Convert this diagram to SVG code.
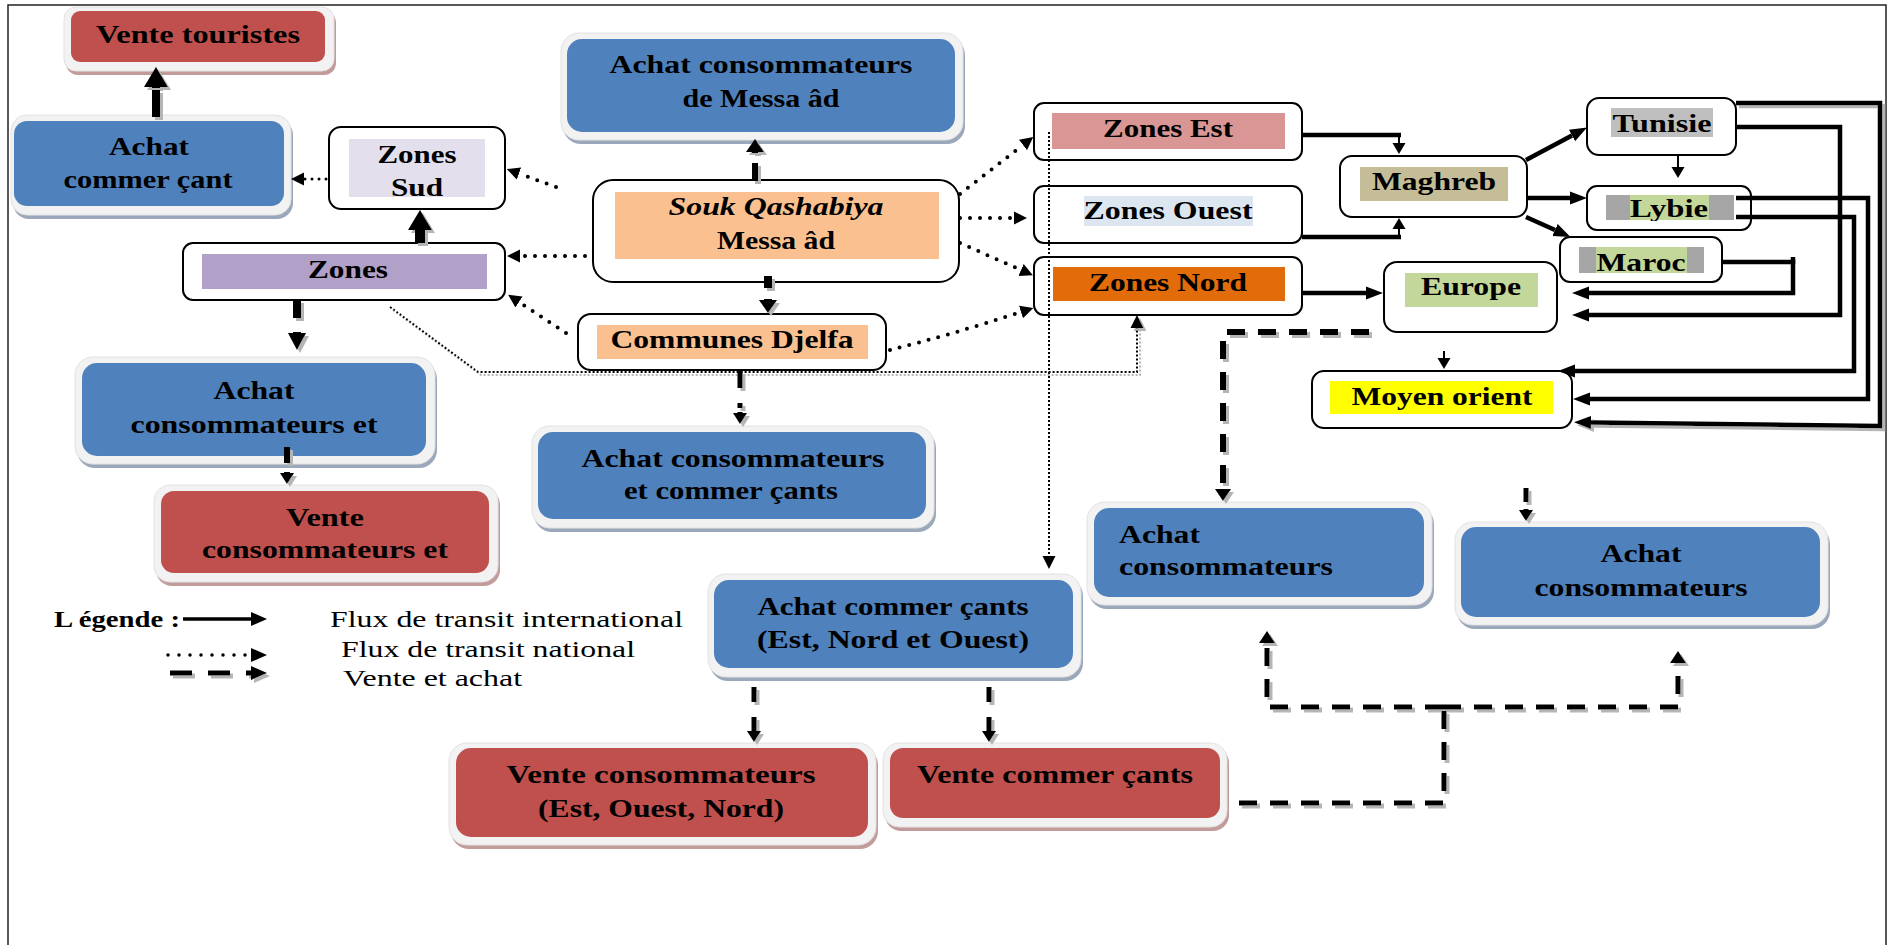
<svg xmlns="http://www.w3.org/2000/svg" width="1888" height="945" viewBox="0 0 1888 945">
<style>
.frame{fill:none;stroke:#222;stroke-width:1.5}
.go{fill:#f2f2f2;stroke:#e2e2e2;stroke-width:1}
.red .gs{fill:#c29c9b}.blue .gs{fill:#9ba8bb}
.red .gi{fill:#c0504d}.blue .gi{fill:#4f81bd}
.wb{fill:#fff;stroke:#000;stroke-width:2}
.t{font-family:"Liberation Serif","Times New Roman",serif;font-weight:bold;font-size:26px;fill:#000;text-anchor:middle}
.ts{text-anchor:start}
.it{font-style:italic}
.lg{font-weight:normal;font-size:23px;text-anchor:start}
.lb{font-size:24px;text-anchor:start}
.int{fill:none;stroke:#000;stroke-width:4.5}
.thin{fill:none;stroke:#000;stroke-width:2}
.dot{fill:none;stroke:#000;stroke-width:4;stroke-dasharray:0 10;stroke-linecap:round}
.fdot{fill:none;stroke:#000;stroke-width:2;stroke-dasharray:2 2}
.dash{fill:none;stroke:#000;stroke-width:5}
.dl{stroke-dasharray:18 13}
</style>
<defs>
<filter id="sh" filterUnits="userSpaceOnUse" x="0" y="0" width="1888" height="945">
<feOffset in="SourceAlpha" dx="3" dy="3" result="o"/>
<feFlood flood-color="#b5b5b5"/>
<feComposite in2="o" operator="in" result="s"/>
<feMerge><feMergeNode in="s"/><feMergeNode in="SourceGraphic"/></feMerge>
</filter>
<marker id="mi" markerUnits="userSpaceOnUse" orient="auto" viewBox="0 -7 17 14" markerWidth="17" markerHeight="14" refX="0" refY="0"><path d="M0,-6.5 L17,0 L0,6.5z" fill="#000"/></marker>
<marker id="mt" markerUnits="userSpaceOnUse" orient="auto" viewBox="0 -7 12 14" markerWidth="12" markerHeight="14" refX="0" refY="0"><path d="M0,-6.5 L11,0 L0,6.5z" fill="#000"/></marker>
<marker id="md" markerUnits="userSpaceOnUse" orient="auto" viewBox="0 -7 13 14" markerWidth="13" markerHeight="14" refX="0" refY="0"><path d="M0,-6.5 L13,0 L0,6.5z" fill="#000"/></marker>
<marker id="k20" markerUnits="userSpaceOnUse" orient="auto" viewBox="0 -12 20 24" markerWidth="20" markerHeight="24" refX="0" refY="0"><path d="M0,-12 L20,0 L0,12z" fill="#000"/></marker>
<marker id="k17" markerUnits="userSpaceOnUse" orient="auto" viewBox="0 -9 17 18" markerWidth="17" markerHeight="18" refX="0" refY="0"><path d="M0,-9 L17,0 L0,9z" fill="#000"/></marker>
<marker id="k13" markerUnits="userSpaceOnUse" orient="auto" viewBox="0 -10 13 20" markerWidth="13" markerHeight="20" refX="0" refY="0"><path d="M0,-9 L13,0 L0,9z" fill="#000"/></marker>
<marker id="k12" markerUnits="userSpaceOnUse" orient="auto" viewBox="0 -9 12 18" markerWidth="12" markerHeight="18" refX="0" refY="0"><path d="M0,-8 L12,0 L0,8z" fill="#000"/></marker>
<marker id="k10" markerUnits="userSpaceOnUse" orient="auto" viewBox="0 -8 11 16" markerWidth="11" markerHeight="16" refX="0" refY="0"><path d="M0,-7 L11,0 L0,7z" fill="#000"/></marker>
<marker id="kl" markerUnits="userSpaceOnUse" orient="auto" viewBox="0 -8 16 16" markerWidth="16" markerHeight="16" refX="0" refY="0"><path d="M0,-7 L16,0 L0,7z" fill="#000"/></marker>
<clipPath id="clipLy"><rect x="1600" y="180" width="150" height="41"/></clipPath>
</defs>

<rect width="1888" height="945" fill="#fff"/>
<path class="frame" d="M8,945 V5 H1886 V945"/>

<!-- nodes -->
<g id="n-vente-touristes" class="red">
 <rect class="gs" x="66" y="11" width="270" height="64" rx="12"/>
 <rect class="go" x="64" y="7" width="270" height="64" rx="12"/>
 <rect class="gi" x="71" y="11" width="254" height="51" rx="9"/>
 <text class="t" x="198" y="43" textLength="204" lengthAdjust="spacingAndGlyphs">Vente touristes</text>
</g>
<g id="n-achat-commercant" class="blue">
 <rect class="gs" x="13" y="119" width="280" height="100" rx="16"/>
 <rect class="go" x="11" y="115" width="280" height="100" rx="16"/>
 <rect class="gi" x="14" y="121" width="270" height="85" rx="13"/>
 <text class="t" x="149" y="155" textLength="80" lengthAdjust="spacingAndGlyphs">Achat</text>
 <text class="t" x="148" y="188" textLength="169" lengthAdjust="spacingAndGlyphs">commer çant</text>
</g>
<g id="n-zones-sud">
 <rect class="wb" x="329" y="127" width="176" height="82" rx="12"/>
 <rect x="349" y="139" width="136" height="58" fill="#e4dfec"/>
 <text class="t" x="417" y="163" textLength="79" lengthAdjust="spacingAndGlyphs">Zones</text>
 <text class="t" x="417" y="196" textLength="52" lengthAdjust="spacingAndGlyphs">Sud</text>
</g>
<g id="n-zones">
 <rect class="wb" x="183" y="243" width="322" height="57" rx="10"/>
 <rect x="202" y="254" width="285" height="35" fill="#b1a0c7"/>
 <text class="t" x="348" y="278" textLength="80" lengthAdjust="spacingAndGlyphs">Zones</text>
</g>
<g id="n-achat-messaad" class="blue">
 <rect class="gs" x="563" y="37" width="402" height="107" rx="18"/>
 <rect class="go" x="561" y="33" width="402" height="107" rx="18"/>
 <rect class="gi" x="567" y="39" width="388" height="93" rx="15"/>
 <text class="t" x="761" y="73" textLength="303" lengthAdjust="spacingAndGlyphs">Achat consommateurs</text>
 <text class="t" x="761" y="107" textLength="157" lengthAdjust="spacingAndGlyphs">de Messa âd</text>
</g>
<g id="n-souk">
 <rect class="wb" x="593" y="180" width="366" height="102" rx="20"/>
 <rect x="615" y="192" width="324" height="67" fill="#fac090"/>
 <text class="t it" x="776" y="215" textLength="215" lengthAdjust="spacingAndGlyphs">Souk Qashabiya</text>
 <text class="t" x="776" y="249" textLength="118" lengthAdjust="spacingAndGlyphs">Messa âd</text>
</g>
<g id="n-communes">
 <rect class="wb" x="578" y="314" width="308" height="56" rx="13"/>
 <rect x="597" y="325" width="271" height="34" fill="#fac090"/>
 <text class="t" x="732" y="348" textLength="243" lengthAdjust="spacingAndGlyphs">Communes Djelfa</text>
</g>
<g id="n-zones-est">
 <rect class="wb" x="1034" y="103" width="268" height="57" rx="10"/>
 <rect x="1052" y="113" width="233" height="36" fill="#da9694"/>
 <text class="t" x="1168" y="137" textLength="130" lengthAdjust="spacingAndGlyphs">Zones Est</text>
</g>
<g id="n-zones-ouest">
 <rect class="wb" x="1034" y="186" width="268" height="57" rx="10"/>
 <rect x="1084" y="196" width="169" height="30" fill="#dce6f1"/>
 <text class="t" x="1168" y="219" textLength="169" lengthAdjust="spacingAndGlyphs">Zones Ouest</text>
</g>
<g id="n-zones-nord">
 <rect class="wb" x="1034" y="257" width="268" height="58" rx="10"/>
 <rect x="1053" y="267" width="232" height="34" fill="#e26b0a"/>
 <text class="t" x="1168" y="291" textLength="158" lengthAdjust="spacingAndGlyphs">Zones Nord</text>
</g>
<g id="n-maghreb">
 <rect class="wb" x="1340" y="156" width="187" height="61" rx="12"/>
 <rect x="1360" y="167" width="148" height="34" fill="#c4bd97"/>
 <text class="t" x="1434" y="190" textLength="124" lengthAdjust="spacingAndGlyphs">Maghreb</text>
</g>
<g id="n-tunisie">
 <rect class="wb" x="1587" y="98" width="149" height="57" rx="12"/>
 <rect x="1611" y="108" width="102" height="29" fill="#bfbfbf"/>
 <text class="t" x="1662" y="132" textLength="99" lengthAdjust="spacingAndGlyphs">Tunisie</text>
</g>
<g id="n-lybie">
 <rect class="wb" x="1587" y="186" width="164" height="44" rx="10"/>
 <rect x="1606" y="195" width="128" height="25" fill="#a6a6a6"/>
 <rect x="1630" y="195" width="79" height="25" fill="#c4d79b"/>
 <text class="t" x="1669" y="217" textLength="78" lengthAdjust="spacingAndGlyphs" clip-path="url(#clipLy)">Lybie</text>
</g>
<g id="n-maroc">
 <rect class="wb" x="1560" y="237" width="162" height="45" rx="10"/>
 <rect x="1579" y="247" width="125" height="26" fill="#a6a6a6"/>
 <rect x="1596" y="247" width="91" height="26" fill="#c4d79b"/>
 <text class="t" x="1641" y="271" textLength="89" lengthAdjust="spacingAndGlyphs">Maroc</text>
</g>
<g id="n-europe">
 <rect class="wb" x="1384" y="262" width="173" height="70" rx="13"/>
 <rect x="1405" y="273" width="133" height="34" fill="#c4d79b"/>
 <text class="t" x="1471" y="295" textLength="100" lengthAdjust="spacingAndGlyphs">Europe</text>
</g>
<g id="n-moyen-orient">
 <rect class="wb" x="1312" y="371" width="260" height="57" rx="12"/>
 <rect x="1330" y="381" width="223" height="33" fill="#ffff00"/>
 <text class="t" x="1442" y="405" textLength="181" lengthAdjust="spacingAndGlyphs">Moyen orient</text>
</g>
<g id="n-achat-conso-et" class="blue">
 <rect class="gs" x="77" y="361" width="360" height="107" rx="18"/>
 <rect class="go" x="75" y="357" width="360" height="107" rx="18"/>
 <rect class="gi" x="82" y="363" width="344" height="93" rx="15"/>
 <text class="t" x="254" y="399" textLength="81" lengthAdjust="spacingAndGlyphs">Achat</text>
 <text class="t" x="254" y="433" textLength="247" lengthAdjust="spacingAndGlyphs">consommateurs et</text>
</g>
<g id="n-vente-conso-et" class="red">
 <rect class="gs" x="156" y="489" width="344" height="97" rx="16"/>
 <rect class="go" x="154" y="485" width="344" height="97" rx="16"/>
 <rect class="gi" x="161" y="491" width="328" height="82" rx="13"/>
 <text class="t" x="325" y="526" textLength="78" lengthAdjust="spacingAndGlyphs">Vente</text>
 <text class="t" x="325" y="558" textLength="246" lengthAdjust="spacingAndGlyphs">consommateurs et</text>
</g>
<g id="n-achat-conso-comm" class="blue">
 <rect class="gs" x="534" y="430" width="402" height="102" rx="18"/>
 <rect class="go" x="532" y="426" width="402" height="102" rx="18"/>
 <rect class="gi" x="538" y="432" width="388" height="87" rx="15"/>
 <text class="t" x="733" y="467" textLength="303" lengthAdjust="spacingAndGlyphs">Achat consommateurs</text>
 <text class="t" x="731" y="499" textLength="214" lengthAdjust="spacingAndGlyphs">et commer çants</text>
</g>
<g id="n-achat-comm-eno" class="blue">
 <rect class="gs" x="710" y="578" width="373" height="103" rx="18"/>
 <rect class="go" x="708" y="574" width="373" height="103" rx="18"/>
 <rect class="gi" x="714" y="580" width="359" height="88" rx="15"/>
 <text class="t" x="893" y="615" textLength="271" lengthAdjust="spacingAndGlyphs">Achat commer çants</text>
 <text class="t" x="893" y="648" textLength="272" lengthAdjust="spacingAndGlyphs">(Est, Nord et Ouest)</text>
</g>
<g id="n-vente-conso-eon" class="red">
 <rect class="gs" x="451" y="747" width="427" height="102" rx="18"/>
 <rect class="go" x="449" y="743" width="427" height="102" rx="18"/>
 <rect class="gi" x="456" y="748" width="412" height="89" rx="15"/>
 <text class="t" x="661" y="783" textLength="309" lengthAdjust="spacingAndGlyphs">Vente  consommateurs</text>
 <text class="t" x="661" y="817" textLength="246" lengthAdjust="spacingAndGlyphs">(Est, Ouest, Nord)</text>
</g>
<g id="n-vente-comm" class="red">
 <rect class="gs" x="885" y="747" width="344" height="84" rx="16"/>
 <rect class="go" x="883" y="743" width="344" height="84" rx="16"/>
 <rect class="gi" x="890" y="748" width="330" height="70" rx="13"/>
 <text class="t" x="1055" y="783" textLength="276" lengthAdjust="spacingAndGlyphs">Vente  commer çants</text>
</g>
<g id="n-achat-conso-mid" class="blue">
 <rect class="gs" x="1089" y="506" width="345" height="103" rx="18"/>
 <rect class="go" x="1087" y="502" width="345" height="103" rx="18"/>
 <rect class="gi" x="1094" y="508" width="330" height="89" rx="15"/>
 <text class="t ts" x="1119" y="543" textLength="81" lengthAdjust="spacingAndGlyphs">Achat</text>
 <text class="t ts" x="1119" y="575" textLength="214" lengthAdjust="spacingAndGlyphs">consommateurs</text>
</g>
<g id="n-achat-conso-right" class="blue">
 <rect class="gs" x="1457" y="526" width="373" height="103" rx="18"/>
 <rect class="go" x="1455" y="522" width="373" height="103" rx="18"/>
 <rect class="gi" x="1461" y="527" width="359" height="90" rx="15"/>
 <text class="t" x="1641" y="562" textLength="81" lengthAdjust="spacingAndGlyphs">Achat</text>
 <text class="t" x="1641" y="596" textLength="213" lengthAdjust="spacingAndGlyphs">consommateurs</text>
</g>

<!-- connectors -->
<g id="connectors">
 <!-- national transit (dotted) -->
 <path class="dot" d="M556,187 L519,173.5" marker-end="url(#md)"/>
 <path class="dot" d="M585,256 L520,256" marker-end="url(#md)"/>
 <path class="dot" d="M566,333 L519,302" marker-end="url(#md)"/>
 <path class="dot" d="M326,179 L304,179" marker-end="url(#md)" style="stroke-width:3;stroke-dasharray:0 7"/>
 <path class="dot" d="M960,194 L1023,145" marker-end="url(#md)"/>
 <path class="dot" d="M960,218 L1014,218" marker-end="url(#md)"/>
 <path class="dot" d="M960,243 L1021,270" marker-end="url(#md)"/>
 <path class="dot" d="M890,350 Q950,335 1021,312" marker-end="url(#md)"/>
 <path class="fdot" d="M390,307 L478,372 H1137 V328" marker-end="url(#md)" filter="url(#sh)"/>
 <path class="fdot" d="M1049,132 V556" marker-end="url(#md)"/>
 <!-- international transit (solid) -->
 <path class="int" d="M1302,135 H1401"/>
 <path class="thin" d="M1399,135 V143" marker-end="url(#mt)"/>
 <path class="int" d="M1302,237 H1401"/>
 <path class="thin" d="M1399,237 V229" marker-end="url(#mt)"/>
 <path class="int" d="M1302,293 H1366" marker-end="url(#mi)"/>
 <path class="int" d="M1526,160 L1572,135.5" marker-end="url(#mi)"/>
 <path class="int" d="M1527,198 H1570" marker-end="url(#mi)"/>
 <path class="int" d="M1526,217 L1555,230" marker-end="url(#mi)"/>
 <path class="thin" d="M1678,156 V167" marker-end="url(#mt)"/>
 <path class="thin" d="M1444,351 V358" marker-end="url(#mt)"/>
 <path class="int" d="M1722,262 H1793 V293 H1589" marker-end="url(#mi)"/>
 <path class="int" d="M1793,257 V264"/>
 <path class="int" d="M1736,127 H1840 V315 H1589" marker-end="url(#mi)"/>
 <path class="int" d="M1736,217 H1854 V371 H1575" marker-end="url(#mi)"/>
 <path class="int" d="M1736,198 H1868 V399 H1590" marker-end="url(#mi)"/>
 <path class="int" d="M1736,103 H1880 V426 L1591,422.5" marker-end="url(#mi)" filter="url(#sh)"/>
 <!-- sale and purchase (dashed) -->
 <g filter="url(#sh)">
  <path class="dash" d="M156,117 V90 M156,88 V87" style="stroke-width:8" marker-end="url(#k20)"/>
  <path class="dash" d="M420,243 V230" style="stroke-width:10" marker-end="url(#k20)"/>
  <path class="dash" d="M755,181 V163 M755,153 V152" style="stroke-width:6" marker-end="url(#k13)"/>
  <path class="dash" d="M768,276 V288 M768,299 V300" style="stroke-width:8" marker-end="url(#k13)"/>
  <path class="dash" d="M297,300 V318 M297,332 V333" style="stroke-width:8" marker-end="url(#k17)"/>
  <path class="dash" d="M287,447 V463 M287,472 V473" style="stroke-width:6" marker-end="url(#k10)"/>
  <path class="dash" d="M740,371 V388 M740,403 V408 M740,412 V413" marker-end="url(#k10)"/>
  <path class="dash dl" d="M1369,332 H1223 V489" style="stroke-width:6" marker-end="url(#k12)"/>
  <path class="dash" d="M754,687 V702 M754,717 V731" marker-end="url(#k10)"/>
  <path class="dash" d="M989,687 V702 M989,717 V731" marker-end="url(#k10)"/>
  <path class="dash" d="M1526,488 V502 M1526,509 V510" marker-end="url(#k10)"/>
  <path class="dash dl" d="M1239,803 H1444 V707"/>
  <path class="dash dl" d="M1443,707 H1267 V643" marker-end="url(#k12)"/>
  <path class="dash dl" d="M1443,707 H1678 V663" marker-end="url(#k12)"/>
 </g>
</g>

<!-- legend -->
<g id="legend">
 <text class="t lb" x="54" y="627" textLength="126" lengthAdjust="spacingAndGlyphs">L égende :</text>
 <path d="M183,619 H251" fill="none" stroke="#000" stroke-width="3.5" marker-end="url(#kl)"/>
 <path class="dot" d="M168,655 H251" style="stroke-width:3.5;stroke-dasharray:0 11" marker-end="url(#kl)"/>
 <g filter="url(#sh)">
  <path class="dash" d="M170,673 H192 M208,673 H230 M246,673 H251" marker-end="url(#kl)"/>
 </g>
 <text class="t lg" x="330" y="627" textLength="353" lengthAdjust="spacingAndGlyphs">Flux de transit international</text>
 <text class="t lg" x="341" y="657" textLength="294" lengthAdjust="spacingAndGlyphs">Flux de transit national</text>
 <text class="t lg" x="343" y="686" textLength="179" lengthAdjust="spacingAndGlyphs">Vente et achat</text>
</g>
</svg>
